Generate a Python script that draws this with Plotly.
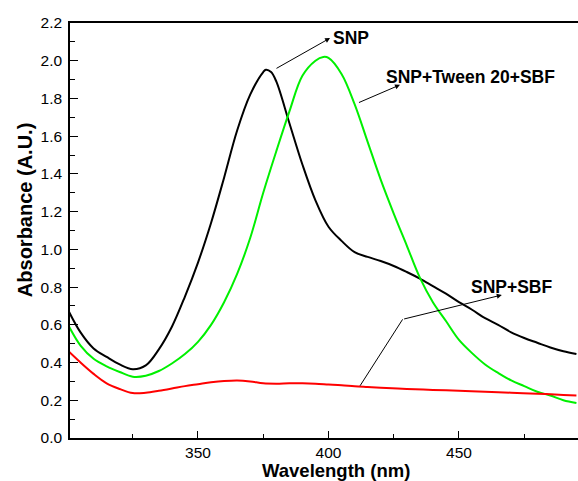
import plotly.graph_objects as go

# Wavelength grid (nm) and absorbance values
wl_snp = [300, 305, 310, 315, 320, 325, 330, 335, 340, 345, 350, 355, 360, 365, 370, 375, 376, 378, 380,
          385, 390, 395, 400, 405, 410, 415, 420, 425, 430, 435, 440, 445, 450, 455, 460, 465, 470, 475,
          480, 485, 490, 495]
abs_snp = [0.685, 0.56, 0.475, 0.43, 0.39, 0.365, 0.385, 0.47, 0.59, 0.75, 0.93, 1.14, 1.38, 1.63, 1.82,
           1.94, 1.952, 1.94, 1.89, 1.67, 1.45, 1.26, 1.12, 1.045, 0.985, 0.96, 0.938, 0.912, 0.88, 0.845,
           0.805, 0.765, 0.72, 0.68, 0.635, 0.60, 0.56, 0.53, 0.505, 0.48, 0.46, 0.445]

wl_tween = [300, 305, 310, 315, 320, 325, 330, 335, 340, 345, 350, 355, 360, 365, 370, 375, 380, 385,
            390, 395, 398, 400, 405, 410, 415, 420, 425, 430, 435, 440, 445, 450, 455, 460, 465, 470,
            475, 480, 485, 490, 495]
abs_tween = [0.606, 0.49, 0.42, 0.38, 0.35, 0.325, 0.33, 0.355, 0.395, 0.445, 0.51, 0.60, 0.72, 0.87, 1.06,
             1.30, 1.52, 1.73, 1.92, 2.00, 2.02, 2.015, 1.93, 1.77, 1.57, 1.37, 1.19, 1.02, 0.85, 0.72,
             0.62, 0.52, 0.45, 0.39, 0.345, 0.305, 0.275, 0.245, 0.225, 0.20, 0.185]

wl_sbf = [300, 305, 310, 315, 320, 325, 330, 335, 340, 345, 350, 355, 360, 365, 370, 375, 380, 385, 390,
          395, 400, 405, 410, 415, 420, 430, 440, 450, 460, 470, 480, 490, 495]
abs_sbf = [0.465, 0.40, 0.34, 0.29, 0.26, 0.238, 0.24, 0.25, 0.262, 0.275, 0.285, 0.295, 0.302, 0.305,
           0.30, 0.29, 0.288, 0.29, 0.29, 0.288, 0.284, 0.28, 0.274, 0.27, 0.266, 0.26, 0.255, 0.25,
           0.245, 0.24, 0.235, 0.228, 0.225]

x_ticks = [350, 400, 450]
y_ticks = [0.0, 0.2, 0.4, 0.6, 0.8, 1.0, 1.2, 1.4, 1.6, 1.8, 2.0, 2.2]
y_tick_labels = ["%.1f" % v for v in y_ticks]

FONT = "Liberation Sans, Arial, sans-serif"

fig = go.Figure()
fig.add_trace(go.Scatter(x=wl_snp, y=abs_snp, mode="lines", line=dict(color="#000000", width=2, shape="spline"),
                         name="SNP"))
fig.add_trace(go.Scatter(x=wl_tween, y=abs_tween, mode="lines", line=dict(color="#00f000", width=2, shape="spline"),
                         name="SNP+Tween 20+SBF"))
fig.add_trace(go.Scatter(x=wl_sbf, y=abs_sbf, mode="lines", line=dict(color="#ff0000", width=2, shape="spline"),
                         name="SNP+SBF"))

lab_font = dict(family=FONT, size=17.5, color="black")
annotations = [
    # SNP
    dict(x=400.6, y=2.12, ax=379.5, ay=1.955, xref="x", yref="y", axref="x", ayref="y", text="",
         showarrow=True, arrowhead=2, arrowsize=1, arrowwidth=1, arrowcolor="black", standoff=0, startstandoff=0),
    dict(x=408.8, y=2.121, xref="x", yref="y", text="<b>SNP</b>", showarrow=False, font=lab_font),
    # SNP+Tween 20+SBF
    dict(x=427.4, y=1.872, ax=411.1, ay=1.775, xref="x", yref="y", axref="x", ayref="y", text="",
         showarrow=True, arrowhead=2, arrowsize=1, arrowwidth=1, arrowcolor="black", standoff=0, startstandoff=0),
    dict(x=454.6, y=1.916, xref="x", yref="y", text="<b>SNP+Tween 20+SBF</b>", showarrow=False, font=lab_font),
    # SNP+SBF
    dict(x=466.4, y=0.758, ax=428.4, ay=0.629, xref="x", yref="y", axref="x", ayref="y", text="",
         showarrow=True, arrowhead=2, arrowsize=1, arrowwidth=1, arrowcolor="black", standoff=0, startstandoff=0),
    dict(x=470.2, y=0.802, xref="x", yref="y", text="<b>SNP+SBF</b>", showarrow=False, font=lab_font),
    # axis titles
    dict(x=0.5246, y=-0.0795, xref="paper", yref="paper", text="<b>Wavelength (nm)</b>", showarrow=False,
         font=dict(family=FONT, size=18.5, color="black"), xanchor="center", yanchor="middle"),
    dict(x=-0.0886, y=0.549, xref="paper", yref="paper", text="<b>Absorbance (A.U.)</b>", showarrow=False,
         textangle=-90, font=dict(family=FONT, size=20, color="black"), xanchor="center", yanchor="middle"),
]

shapes = [dict(type="line", xref="x", yref="y", x0=412.1, y0=0.277, x1=428.4, y1=0.629,
               line=dict(color="black", width=1))]

fig.update_layout(
    width=578, height=481,
    margin=dict(l=70, r=0, t=23, b=43, autoexpand=False),
    paper_bgcolor="white", plot_bgcolor="white",
    showlegend=False,
    annotations=annotations,
    shapes=shapes,
    font=dict(family=FONT, size=15, color="black"),
    xaxis=dict(range=[300.96, 495.6], tickvals=x_ticks, ticks="inside", ticklen=7, tickwidth=1.2,
               tickcolor="black", showline=True, linecolor="black", linewidth=1.5, mirror=True,
               showgrid=False, zeroline=False, automargin=False, ticklabelstandoff=0,
               tickfont=dict(family=FONT, size=15.5, color="black"),
               minor=dict(dtick=25, tick0=300, ticks="inside", ticklen=4, tickwidth=1.2, tickcolor="black")),
    yaxis=dict(range=[0, 2.2], tickvals=y_ticks, ticktext=y_tick_labels, ticks="inside", ticklen=8,
               tickwidth=1.2, tickcolor="black", showline=True, linecolor="black", linewidth=1.5,
               showgrid=False, zeroline=False, automargin=False, ticklabelstandoff=3,
               tickfont=dict(family=FONT, size=15.5, color="black"),
               minor=dict(dtick=0.1, tick0=0, ticks="inside", ticklen=5, tickwidth=1.2, tickcolor="black")),
)

fig.write_html("out.html", config={"displayModeBar": False},
               post_script="document.body.style.margin='0';document.body.style.overflow='hidden';")
